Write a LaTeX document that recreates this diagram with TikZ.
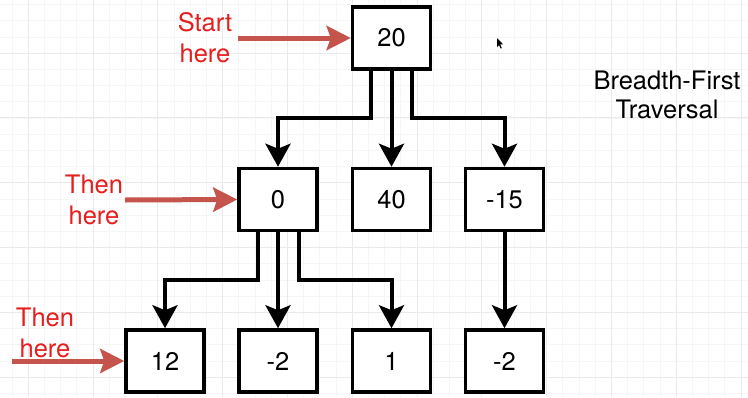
\documentclass[tikz,border=0pt]{standalone}
\usepackage{fontspec}
\setmainfont{TeX Gyre Heros}
\usetikzlibrary{arrows.meta}
\definecolor{gridmaj}{RGB}{234,234,234}
\definecolor{gridmin}{RGB}{246,246,246}
\definecolor{redarrow}{RGB}{197,84,77}
\definecolor{redtext}{RGB}{230,30,30}
\tikzset{
  box/.style={draw=black, line width=3.5pt, minimum width=78pt, minimum height=62pt,
    inner sep=0pt, fill=white, font=\fontsize{25.5}{30}\selectfont},
  edge/.style={line width=4pt, -{Stealth[length=23pt,width=25pt,inset=5pt]}},
  hint/.style={draw=redarrow, line width=5pt, -{Stealth[length=24pt,width=24pt,inset=4pt]}},
  hinttext/.style={text=redtext, align=center, font=\fontsize{25.5}{31}\selectfont},
  titletext/.style={text=black, align=center, font=\fontsize{25.5}{29}\selectfont},
}
\begin{document}
\begin{tikzpicture}[x=1pt,y=-1pt]
\fill[white] (0,0) rectangle (748,397);
\useasboundingbox (0,0) rectangle (748,397);
% grid
\foreach \i in {0,...,50} {
  \draw[gridmin, line width=0.6pt] ({-36.7+16.2*\i},0) -- ({-36.7+16.2*\i},397);
}
\foreach \i in {0,...,28} {
  \draw[gridmin, line width=0.6pt] (0,{-11.8+16.2*\i}) -- (748,{-11.8+16.2*\i});
}
\foreach \i in {0,...,12} {
  \draw[gridmaj, line width=0.8pt] ({-36.7+64.8*\i},0) -- ({-36.7+64.8*\i},397);
}
\foreach \i in {0,...,7} {
  \draw[gridmaj, line width=0.8pt] (0,{-11.8+64.8*\i}) -- (748,{-11.8+64.8*\i});
}
% nodes
\node[box] (root) at (391.5,38) {20};
\node[box] (n0)   at (278,199.5) {0};
\node[box] (n40)  at (391.5,199.5) {40};
\node[box] (n15)  at (504.5,199.5) {-15};
\node[box] (n12)  at (165,361) {12};
\node[box] (nm2a) at (278,361) {-2};
\node[box] (n1)   at (391.5,361) {1};
\node[box] (nm2b) at (504.5,361) {-2};
% edges level 1
\coordinate (rl) at ([xshift=-20.5pt]root.south);
\coordinate (rr) at ([xshift=20.5pt]root.south);
\draw[edge] (rl) -- (rl |- 0,118) -| (n0.north);
\draw[edge] (root.south) -- (n40.north);
\draw[edge] (rr) -- (rr |- 0,118) -| (n15.north);
% edges level 2
\coordinate (al) at ([xshift=-20.5pt]n0.south);
\coordinate (ar) at ([xshift=20.5pt]n0.south);
\draw[edge] (al) -- (al |- 0,280) -| (n12.north);
\draw[edge] (n0.south) -- (nm2a.north);
\draw[edge] (ar) -- (ar |- 0,280) -| (n1.north);
\draw[edge] (n15.south) -- (nm2b.north);
% hints
\coordinate (h1) at (238,38);
\coordinate (h2) at (125,200);
\coordinate (h3) at (12,361);
\draw[hint] (h1) -- (root.west);
\draw[hint] (h2) -- (n0.west);
\draw[hint] (h3) -- (n12.west);
\node[hinttext] (t1) at (205,38) {Start\\here};
\node[hinttext] (t2) at (94,200) {Then\\here};
\node[hinttext] (t3) at (45,332.5) {Then\\here};
\node[titletext] (title) at (667,95) {Breadth-First\\Traversal};
% cursor
\fill[black] (497,38) -- (497,47) -- (499,45) -- (500.7,48.5) -- (501.8,48) -- (500.2,44.5) -- (503,44.3) -- cycle;
\end{tikzpicture}
\end{document}
